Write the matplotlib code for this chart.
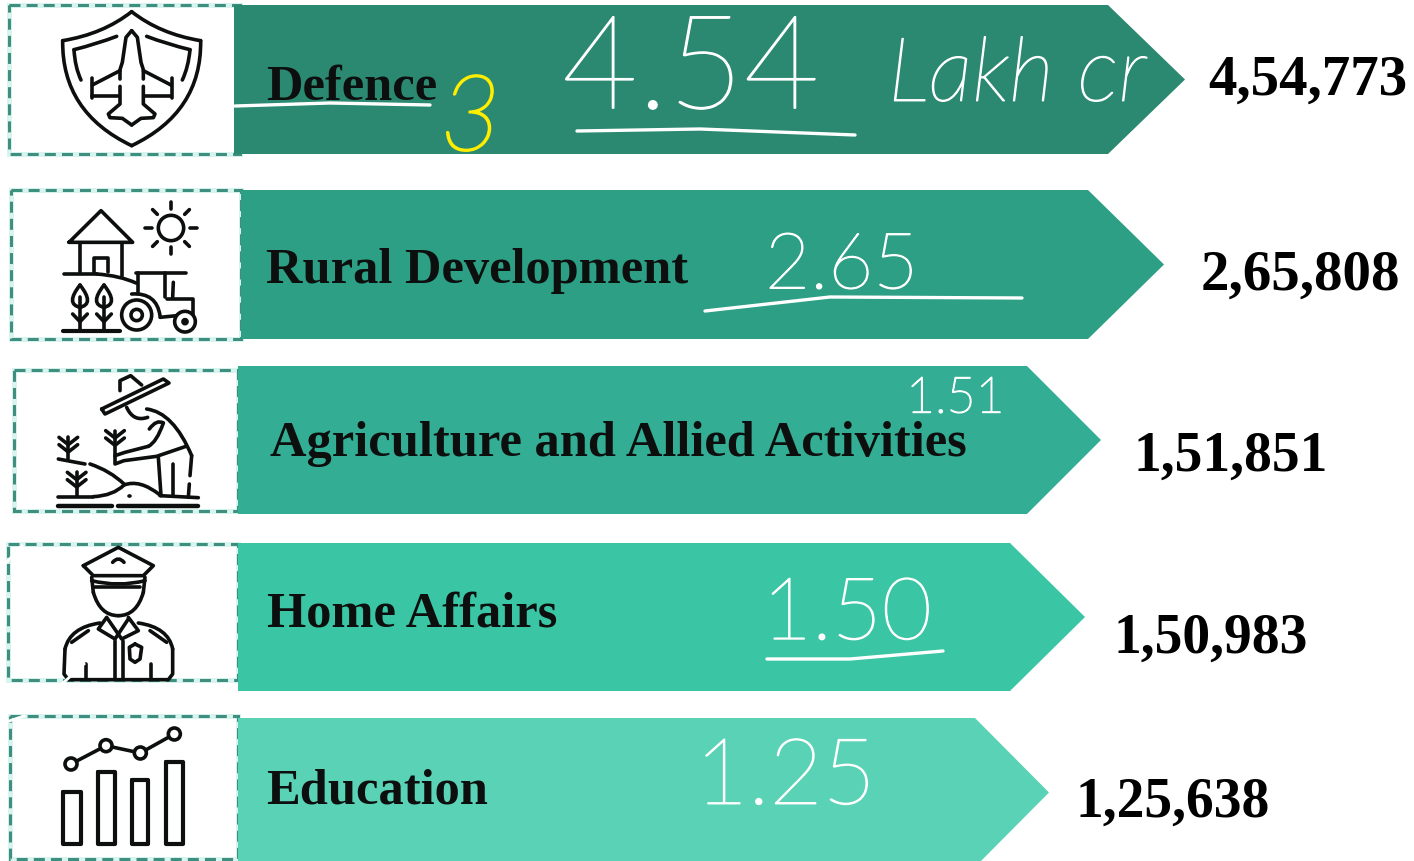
import numpy as np
import matplotlib
matplotlib.use('Agg')
import matplotlib.pyplot as plt
from matplotlib.patches import Polygon, Rectangle, Circle, PathPatch
from matplotlib.path import Path
from matplotlib import patheffects as pe

categories = ['Defence', 'Rural Development', 'Agriculture and Allied Activities', 'Home Affairs', 'Education']
amounts = ['4,54,773', '2,65,808', '1,51,851', '1,50,983', '1,25,638']
handwritten = ['4.54', '2.65', '1.51', '1.50', '1.25']

# layout, in pixels of the picture
arrow_colors = ['#2B8972', '#2C9F85', '#33AE95', '#3AC6A4', '#5AD2B6']
arrow_left = [234, 241, 238, 238, 238]
arrow_shoulder = [1108, 1088, 1027, 1010, 975]
arrow_tip = [1185, 1164, 1101, 1085, 1049]
arrow_top = [6, 191, 367, 544, 719]
arrow_bottom = [155, 340, 515, 692, 868]
box_left = [9, 11, 14, 8, 10]
box_right = [240, 241, 238, 238, 238]
box_top = [6, 191, 371, 545, 717]
box_bottom = [155, 340, 512, 681, 860]
label_xy = [(266, 88), (266, 271), (270, 444), (267, 615), (266, 792)]
amount_xy = [(1208, 81), (1201, 276), (1133, 457), (1113, 639), (1076, 803)]
amount_size = [41, 41, 40, 40, 40]
hand_xy = [(562, 74), (765, 268), (906, 400), (762, 617), (695, 780)]
hand_size = [94, 56, 36, 62, 66]

fig = plt.figure(figsize=(14.14, 8.62), dpi=100)
ax = fig.add_axes([0, 0, 1, 1])
ax.set_xlim(0, 1414)
ax.set_ylim(862, 0)
ax.axis('off')

BLACK = '#0c0f0e'


def line(pts, ox=0, oy=0, lw=2.6, close=False, color=BLACK):
    # points are given in 3x crop units
    p = np.array(pts, float) / 3 + [ox, oy]
    if close:
        p = np.vstack([p, p[0]])
    ax.plot(p[:, 0], p[:, 1], color=color, lw=lw, solid_capstyle='round', solid_joinstyle='round', zorder=5)


def quad(p0, c, p1, ox=0, oy=0, lw=2.6, color=BLACK):
    v = np.array([p0, c, p1], float) / 3 + [ox, oy]
    ax.add_patch(PathPatch(Path(v, [Path.MOVETO, Path.CURVE3, Path.CURVE3]), fc='none', ec=color, lw=lw,
                           capstyle='round', zorder=5))


def ring(c, r, ox=0, oy=0, lw=2.6):
    ax.add_patch(Circle((c[0] / 3 + ox, c[1] / 3 + oy), r / 3, fc='white', ec=BLACK, lw=lw, zorder=6))


def shield_icon():
    quad((395, 38), (310, 105), (188, 125))
    quad((395, 38), (480, 105), (602, 125))
    quad((188, 125), (185, 340), (395, 440))
    quad((602, 125), (605, 340), (395, 440))
    quad((350, 112), (290, 135), (222, 152))
    quad((222, 152), (225, 205), (243, 243))
    quad((440, 112), (500, 135), (570, 152))
    quad((570, 152), (565, 205), (547, 243))
    for s in (-1, 1):
        x = lambda d: 395 + s * d
        line([(x(0), 95), (x(17), 115), (x(28), 190), (x(35), 212), (x(35), 240)])
        line([(x(35), 215), (x(118), 258)])
        line([(x(120), 238), (x(120), 298)])
        line([(x(118), 290), (x(38), 290)])
        line([(x(35), 262), (x(35), 315), (x(70), 345), (x(65), 356), (x(28), 358), (x(0), 378)])


def farm_icon():
    line([(207, 730), (303, 635), (398, 730)], close=True)
    line([(240, 732), (240, 820)])
    line([(367, 732), (367, 832)])
    line([(282, 820), (282, 778), (325, 778), (325, 820)])
    line([(192, 825), (290, 825)])
    quad((290, 825), (360, 830), (408, 852))
    ring((513, 687), 38)
    for a in np.arange(0, 360, 45):
        d = np.array([np.cos(np.radians(a)), np.sin(np.radians(a))])
        line([(513 + 58 * d[0], 687 + 58 * d[1]), (513 + 78 * d[0], 687 + 78 * d[1])])
    line([(408, 823), (558, 823)])
    line([(413, 823), (413, 880)])
    line([(495, 823), (495, 895)])
    line([(520, 850), (518, 895)])
    line([(500, 900), (580, 900), (580, 950)])
    line([(480, 955), (530, 950)])
    quad((395, 885), (470, 880), (480, 950))
    ring((410, 948), 45)
    ring((410, 948), 17)
    ring((555, 968), 31)
    ring((555, 968), 6)
    for x in (240, 312):
        quad((x, 858), (x - 45, 915), (x, 925))
        quad((x, 858), (x + 45, 915), (x, 925))
        line([(x, 895), (x, 995)])
        line([(x - 22, 945), (x, 968), (x + 22, 945)])
    line([(190, 997), (360, 997)], lw=3)


def farmer_icon():
    k = dict(oy=350)
    line([(305, 180), (490, 90), (507, 102), (315, 195)], close=True, **k)
    line([(360, 125), (360, 95), (392, 80), (425, 108)], **k)
    quad((380, 175), (400, 220), (443, 205), **k)
    quad((440, 180), (520, 190), (575, 320), **k)
    line([(575, 320), (570, 380)], **k)
    line([(568, 405), (565, 445)], **k)
    quad((490, 222), (470, 280), (445, 292), **k)
    quad((490, 222), (470, 210), (448, 240), **k)
    line([(445, 292), (375, 310), (345, 320), (345, 345), (372, 335), (470, 322), (558, 292)], **k)
    line([(475, 325), (483, 440)], **k)
    line([(520, 345), (520, 440)], **k)
    for c, t, b in ((205, 265, 330), (345, 245, 320), (230, 370, 440)):
        line([(c, t), (c, b)], **k)
        for dy in (0, 22):
            line([(c - 28, t + dy), (c, t + dy + 22), (c + 28, t + dy)], **k)
    line([(175, 330), (255, 345)], **k)
    quad((270, 345), (330, 365), (372, 405), **k)
    line([(175, 443), (280, 443)], **k)
    quad((280, 443), (340, 440), (372, 408), **k)
    quad((372, 408), (420, 390), (480, 438), **k)
    line([(480, 440), (595, 446)], **k)
    line([(175, 470), (337, 470)], lw=3.2, **k)
    line([(355, 470), (595, 470)], lw=3.2, **k)
    line([(388, 442), (390, 442)], **k)
    line([(413, 442), (415, 442)], **k)


def police_icon():
    k = dict(oy=350)
    line([(250, 650), (355, 595), (460, 650), (430, 680), (280, 680)], close=True, **k)
    quad((338, 640), (355, 620), (372, 640), **k)
    quad((275, 695), (355, 715), (435, 695), **k)
    line([(285, 715), (420, 715)], **k)
    line([(275, 685), (280, 730)], **k)
    line([(435, 685), (430, 730)], **k)
    quad((280, 730), (300, 800), (355, 800), **k)
    quad((430, 730), (410, 800), (355, 800), **k)
    line([(320, 805), (295, 840), (345, 870), (385, 810)], **k)
    line([(385, 805), (415, 845), (365, 870), (322, 808)], **k)
    quad((300, 822), (210, 835), (195, 900), **k)
    quad((415, 822), (505, 835), (518, 900), **k)
    line([(195, 900), (192, 975), (205, 992), (505, 992), (518, 975), (518, 900)], **k)
    line([(215, 880), (265, 845)], **k)
    line([(450, 845), (500, 880)], **k)
    line([(345, 875), (345, 990)], **k)
    line([(368, 875), (368, 990)], **k)
    line([(258, 945), (258, 990)], **k)
    line([(452, 945), (452, 990)], **k)
    line([(405, 885), (425, 895), (420, 930), (405, 940), (390, 930), (388, 895)], close=True, **k)


def chart_icon():
    k = dict(oy=350)
    for x0, x1, top in ((188, 242, 1328), (293, 345, 1270), (395, 445, 1293), (498, 548, 1238)):
        line([(x0, top), (x1, top), (x1, 1484), (x0, 1484)], close=True, lw=3, **k)
    pts = [(213, 1245), (318, 1190), (421, 1212), (523, 1155)]
    line(pts, **k)
    for p in pts:
        ring(p, 18, **k)


for i, cat in enumerate(categories):
    # dashed box behind the arrow
    ax.add_patch(Rectangle((box_left[i], box_top[i]), box_right[i] - box_left[i], box_bottom[i] - box_top[i],
                           fc='white', ec='#d8f4ee', lw=3.6, zorder=1))
    ax.add_patch(Rectangle((box_left[i], box_top[i]), box_right[i] - box_left[i], box_bottom[i] - box_top[i],
                           fc='none', ec='#3f8f80', lw=2.2, ls=(0, (3.6, 2)), zorder=2))
    mid = (arrow_top[i] + arrow_bottom[i]) / 2
    ax.add_patch(Polygon([(arrow_left[i], arrow_top[i]), (arrow_shoulder[i], arrow_top[i]), (arrow_tip[i], mid),
                          (arrow_shoulder[i], arrow_bottom[i]), (arrow_left[i], arrow_bottom[i])],
                         fc=arrow_colors[i], ec='none', zorder=3))
    ax.text(label_xy[i][0], label_xy[i][1], cat, family='Liberation Serif', weight='bold', fontsize=36.4,
            color=BLACK, va='center', ha='left', zorder=7)
    ax.text(amount_xy[i][0], amount_xy[i][1], amounts[i], family='Liberation Serif', weight='bold',
            fontsize=amount_size[i], color='black', va='center', ha='left', zorder=7)
    # the marker-pen figures
    ax.text(hand_xy[i][0], hand_xy[i][1], handwritten[i], family='Lato', weight='light', fontsize=hand_size[i],
            color='white', va='center', ha='left', zorder=8,
            path_effects=[pe.Stroke(linewidth=1.0, foreground='white'), pe.Normal()])

shield_icon()
farm_icon()
farmer_icon()
police_icon()
chart_icon()

# pen annotations on top
ax.text(888, 78, 'Lakh cr', family='Lato', weight='light', style='italic', fontsize=64, color='white',
        va='center', ha='left', zorder=8, path_effects=[pe.Stroke(linewidth=1.0, foreground='white'), pe.Normal()])
ax.text(440, 122, '3', family='Lato', weight='light', style='italic', fontsize=76, color='#ffee00', va='center',
        ha='left', zorder=8, path_effects=[pe.Stroke(linewidth=1.6, foreground='#ffee00'), pe.Normal()])
underlines = [([235, 330, 430], [107, 104, 106]), ([577, 700, 855], [132, 130, 136]),
              ([705, 830, 1022], [312, 298, 299]), ([767, 850, 943], [660, 660, 652])]
for xs, ys in underlines:
    ax.plot(xs, ys, color='white', lw=2.4, solid_capstyle='round', zorder=8)
for xs, ys in [([0, 22], [570, 547]), ([62, 84], [685, 665]), ([0, 24], [725, 717])]:
    ax.plot(xs, ys, color='white', lw=2, zorder=8)

fig.savefig('out.png', dpi=100, facecolor='white')
